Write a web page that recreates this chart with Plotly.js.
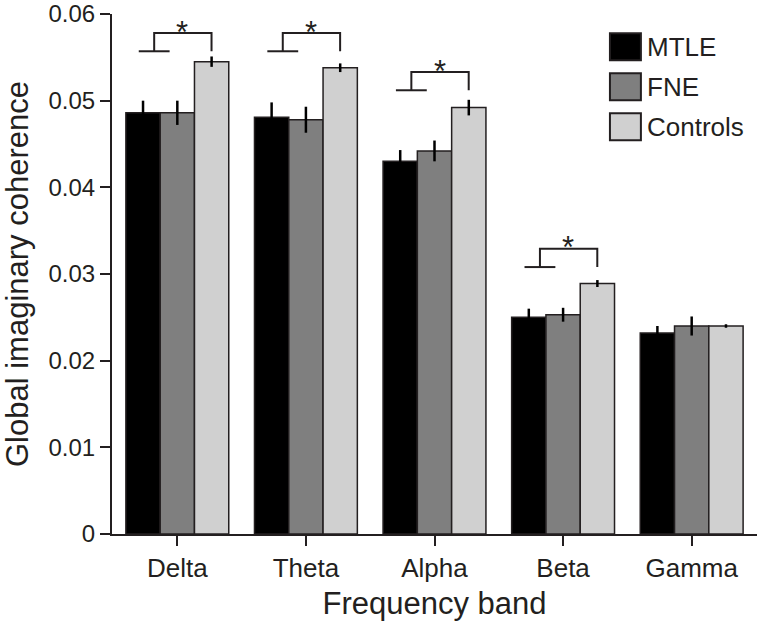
<!DOCTYPE html>
<html>
<head>
<meta charset="utf-8">
<script src="https://cdn.plot.ly/plotly-3.0.1.min.js"></script>
<style>
  html, body { margin: 0; padding: 0; background: #ffffff; }
  #chart { width: 762px; height: 622px; }
</style>
</head>
<body>
<div id="chart"></div>
<script>
// ---- data ----
var bands = ["Delta", "Theta", "Alpha", "Beta", "Gamma"];
var seriesNames = ["MTLE", "FNE", "Controls"];
var mtle = [0.0486, 0.0481, 0.0430, 0.0250, 0.0232];
var mtleErr = [0.0014, 0.0017, 0.0013, 0.0010, 0.0008];
var fne = [0.0486, 0.0478, 0.0442, 0.0253, 0.0240];
var fneErr = [0.0014, 0.0015, 0.0012, 0.0008, 0.0011];
var controls = [0.0545, 0.0538, 0.0492, 0.0289, 0.0240];
var controlsErr = [0.0006, 0.0005, 0.0009, 0.0004, 0.0002];
// significance brackets (lower level of bracket; null = no bracket)
var sigLevel = [0.0557, 0.0557, 0.0512, 0.0308, null];
var sigLabel = ["*", "*", "*", "*", ""];
var yTickVals = [0, 0.01, 0.02, 0.03, 0.04, 0.05, 0.06];
var yTickText = ["0", "0.01", "0.02", "0.03", "0.04", "0.05", "0.06"];

var FONT = "Liberation Sans, Arial, Helvetica, sans-serif";
var INK = "#231f20";
var fills = ["#000000", "#7f7f7f", "#d0d0d0"];
var vals = [mtle, fne, controls];
var errs = [mtleErr, fneErr, controlsErr];

var traces = seriesNames.map(function (name, k) {
  return {
    type: "bar",
    name: name,
    x: bands,
    y: vals[k],
    marker: { color: fills[k], line: { color: INK, width: 1.5 } },
    error_y: { type: "data", array: errs[k], visible: true, color: "#000000", thickness: 2.5, width: 0 },
    showlegend: false,
    hoverinfo: "x+y"
  };
});

var shapes = [];
var annotations = [];
var step = 0.0021;
sigLevel.forEach(function (lo, i) {
  if (lo === null) return;
  var hi = lo + step;
  shapes.push({ type: "line", xref: "x", yref: "y", x0: i - 0.30, x1: i - 0.06, y0: lo, y1: lo,
                line: { color: INK, width: 2 } });
  shapes.push({ type: "path", xref: "x", yref: "y",
                path: "M" + (i - 0.18) + "," + lo + " L" + (i - 0.18) + "," + hi +
                      " L" + (i + 0.266) + "," + hi + " L" + (i + 0.266) + "," + lo,
                line: { color: INK, width: 2 } });
  annotations.push({ xref: "x", yref: "y", x: i + 0.04, y: hi, text: sigLabel[i],
                     showarrow: false, xanchor: "center", yanchor: "middle", yshift: 1,
                     font: { family: FONT, size: 31, color: INK } });
});

// manual legend (large swatches as in the reference)
var legY = [0.937, 0.860, 0.783];
seriesNames.forEach(function (name, k) {
  shapes.push({ type: "rect", xref: "paper", yref: "paper",
                x0: 0.772, x1: 0.820, y0: legY[k] - 0.026, y1: legY[k] + 0.026,
                fillcolor: fills[k], line: { color: INK, width: 2 } });
  annotations.push({ xref: "paper", yref: "paper", x: 0.827, y: legY[k], text: name,
                     showarrow: false, xanchor: "left", yanchor: "middle",
                     font: { family: FONT, size: 26, color: INK } });
});

var layout = {
  width: 762,
  height: 622,
  margin: { l: 112, r: 5, t: 14, b: 88 },
  paper_bgcolor: "#ffffff",
  plot_bgcolor: "#ffffff",
  barmode: "group",
  bargap: 0.2,
  bargroupgap: 0,
  font: { family: FONT, color: INK },
  showlegend: false,
  xaxis: {
    type: "category",
    range: [-0.508, 4.508],
    showline: true, linecolor: INK, linewidth: 2,
    ticks: "outside", ticklen: 10, tickwidth: 2, tickcolor: INK,
    tickfont: { family: FONT, size: 26, color: INK },
    showgrid: false, zeroline: false,
    title: { text: "Frequency band", font: { family: FONT, size: 31, color: INK }, standoff: 10 },
    automargin: false,
    fixedrange: true
  },
  yaxis: {
    range: [0, 0.06],
    tickmode: "array", tickvals: yTickVals, ticktext: yTickText,
    showline: true, linecolor: INK, linewidth: 2,
    ticks: "outside", ticklen: 10, tickwidth: 2, tickcolor: INK,
    tickfont: { family: FONT, size: 24, color: INK },
    ticklabeloverflow: "allow",
    showgrid: false, zeroline: false,
    title: { text: "Global imaginary coherence", font: { family: FONT, size: 31, color: INK }, standoff: 12 },
    automargin: false,
    fixedrange: true
  },
  shapes: shapes,
  annotations: annotations
};

Plotly.newPlot("chart", traces, layout, { displayModeBar: false, staticPlot: true });
</script>
</body>
</html>
